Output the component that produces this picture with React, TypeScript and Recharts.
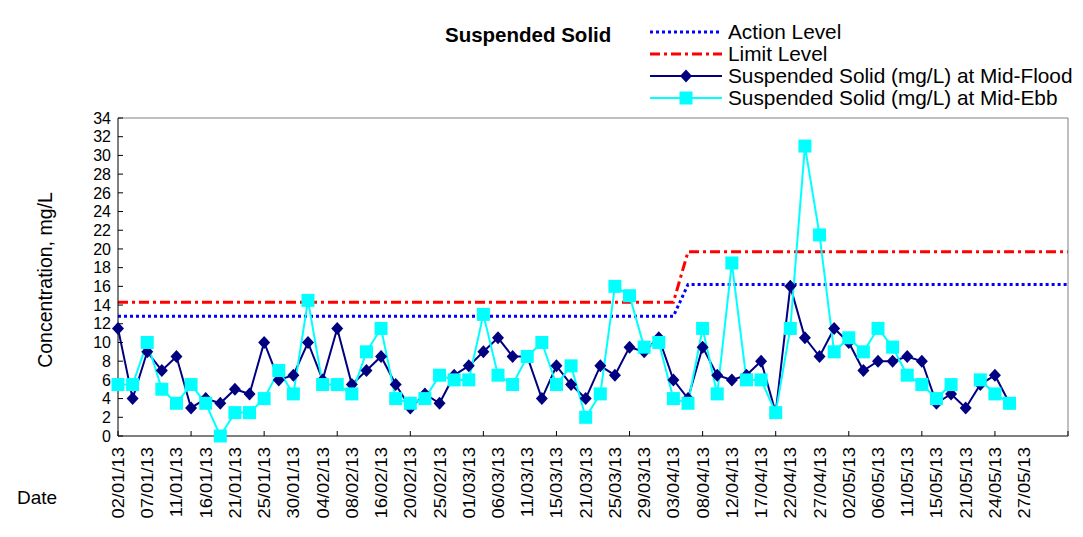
import React from 'react'
import { LineChart, Line, XAxis, YAxis } from 'recharts'

const FONT = '"Liberation Sans", Arial, sans-serif'

// one label every second sampling day
const dateLabels = [
  '02/01/13', '07/01/13', '11/01/13', '16/01/13', '21/01/13', '25/01/13', '30/01/13', '04/02/13',
  '08/02/13', '16/02/13', '20/02/13', '25/02/13', '01/03/13', '06/03/13', '11/03/13', '15/03/13',
  '21/03/13', '25/03/13', '29/03/13', '03/04/13', '08/04/13', '12/04/13', '17/04/13', '22/04/13',
  '27/04/13', '02/05/13', '06/05/13', '11/05/13', '15/05/13', '21/05/13', '24/05/13', '27/05/13',
]

const midFlood = [
  11.5, 4, 9, 7, 8.5, 3, 4, 3.5, 5, 4.5, 10, 6, 6.5, 10, 6, 11.5, 5.5, 7, 8.5, 5.5,
  3, 4.5, 3.5, 6.5, 7.5, 9, 10.5, 8.5, 8.5, 4, 7.5, 5.5, 4, 7.5, 6.5, 9.5, 9, 10.5, 6, 4,
  9.5, 6.5, 6, 6.5, 8, 2.5, 16, 10.5, 8.5, 11.5, 10, 7, 8, 8, 8.5, 8, 3.5, 4.5, 3, 5.5,
  6.5, 3.5,
]

const midEbb: (number | null)[] = [
  5.5, 5.5, 10, 5, 3.5, 5.5, 3.5, 0, 2.5, 2.5, 4, 7, 4.5, 14.5, 5.5, 5.5, 4.5, 9, 11.5, 4,
  3.5, 4, 6.5, 6, 6, 13, 6.5, 5.5, 8.5, 10, 5.5, 7.5, 2, 4.5, 16, 15, 9.5, 10, 4, 3.5,
  11.5, 4.5, 18.5, 6, 6, 2.5, 11.5, 31, 21.5, 9, 10.5, 9, 11.5, 9.5, 6.5, 5.5, 4, 5.5, null, 6,
  4.5, 3.5,
]

const yTicks = [0, 2, 4, 6, 8, 10, 12, 14, 16, 18, 20, 22, 24, 26, 28, 30, 32, 34]

const categoryCount = 66
const levelChangeIndex = 39
const actionLevel = [12.8, 16.2]
const limitLevel = [14.3, 19.7]

const rows = Array.from({ length: categoryCount }, (_, i) => ({
  i,
  flood: midFlood[i] ?? null,
  ebb: midEbb[i] ?? null,
  action: i < levelChangeIndex ? actionLevel[0] : actionLevel[1],
  limit: i < levelChangeIndex ? limitLevel[0] : limitLevel[1],
}))

const xTicks = rows.map((r) => r.i)

function DateTick(props: any) {
  const { x, y, payload } = props
  const i = payload.value as number
  const label = i % 2 === 0 ? dateLabels[i / 2] : undefined
  return (
    <g>
      {i % 5 === 0 && <line x1={x} x2={x} y1={y} y2={y - 5} stroke="#000" />}
      {label && (
        <text
          transform={`translate(${x + 6},${y + 11}) rotate(-90) scale(1.15,1)`}
          textAnchor="end"
          fontSize={16}
          fontFamily={FONT}
          fill="#000"
        >
          {label}
        </text>
      )}
    </g>
  )
}

function Diamond(p: any) {
  const { cx, cy, index } = p
  if (cx == null || cy == null || p.value == null) return <g key={`d${index}`} />
  return (
    <polygon
      key={`d${index}`}
      points={`${cx},${cy - 6.5} ${cx + 6},${cy} ${cx},${cy + 6.5} ${cx - 6},${cy}`}
      fill="#000080"
    />
  )
}

function Square(p: any) {
  const { cx, cy, index } = p
  if (cx == null || cy == null || p.value == null) return <g key={`s${index}`} />
  return <rect key={`s${index}`} x={cx - 6.5} y={cy - 6.5} width={13} height={13} fill="#00FFFF" />
}

const legendItems = [
  { label: 'Action Level', color: '#0000FF', dash: '3 3', marker: null },
  { label: 'Limit Level', color: '#FF0000', dash: '10 4 3 4', marker: null },
  { label: 'Suspended Solid (mg/L) at Mid-Flood', color: '#000080', dash: undefined, marker: 'diamond' },
  { label: 'Suspended Solid (mg/L) at Mid-Ebb', color: '#00FFFF', dash: undefined, marker: 'square' },
]

function LegendBox() {
  return (
    <div style={{ position: 'absolute', left: 650, top: 21, fontFamily: FONT, fontSize: 20.8, color: '#000' }}>
      {legendItems.map((it) => (
        <div key={it.label} style={{ display: 'flex', alignItems: 'center', height: 22 }}>
          <svg width={74} height={16} style={{ flex: 'none' }}>
            <line
              x1={0}
              x2={72}
              y1={8}
              y2={8}
              stroke={it.color}
              strokeWidth={it.marker ? 2 : 3}
              strokeDasharray={it.dash}
            />
            {it.marker === 'diamond' && <polygon points="36,1.5 42,8 36,14.5 30,8" fill={it.color} />}
            {it.marker === 'square' && <rect x={29.5} y={1.5} width={13} height={13} fill={it.color} />}
          </svg>
          <span style={{ marginLeft: 4, whiteSpace: 'nowrap', lineHeight: '22px' }}>{it.label}</span>
        </div>
      ))}
    </div>
  )
}

export default function App() {
  return (
    <div style={{ position: 'absolute', left: 0, top: 0, width: 1083, height: 537, background: '#fff' }}>
      <LineChart width={1083} height={537} data={rows} margin={{ top: 117, right: 14, left: 0, bottom: 0 }}>
        <XAxis
          dataKey="i"
          type="number"
          domain={[0, categoryCount - 1]}
          ticks={xTicks}
          interval={0}
          height={101}
          tickSize={0}
          tickMargin={0}
          tickLine={false}
          tick={<DateTick />}
          axisLine={{ stroke: '#000' }}
        />
        <XAxis
          xAxisId="top"
          orientation="top"
          dataKey="i"
          type="number"
          domain={[0, categoryCount - 1]}
          height={1}
          tick={false}
          tickLine={false}
          axisLine={{ stroke: '#808080' }}
        />
        <YAxis
          domain={[0, 34]}
          ticks={yTicks}
          interval={0}
          width={118}
          tickSize={-5}
          tickMargin={12}
          tickLine={{ stroke: '#000' }}
          axisLine={{ stroke: '#000' }}
          tick={{ fill: '#000', fontSize: 16, fontFamily: FONT }}
        />
        <YAxis
          yAxisId="right"
          orientation="right"
          domain={[0, 34]}
          width={1}
          tick={false}
          tickLine={false}
          axisLine={{ stroke: '#808080' }}
        />
        <Line dataKey="action" stroke="#0000FF" strokeWidth={3} strokeDasharray="3 3" dot={false} isAnimationActive={false} />
        <Line dataKey="limit" stroke="#FF0000" strokeWidth={3} strokeDasharray="10 4 3 4" dot={false} isAnimationActive={false} />
        <Line dataKey="flood" stroke="#000080" strokeWidth={2} dot={Diamond} activeDot={false} isAnimationActive={false} />
        <Line dataKey="ebb" stroke="#00FFFF" strokeWidth={2} dot={Square} activeDot={false} isAnimationActive={false} />
      </LineChart>
      <div style={{ position: 'absolute', left: 445, top: 23, fontFamily: FONT, fontWeight: 'bold', fontSize: 20.5 }}>
        Suspended Solid
      </div>
      <LegendBox />
      <div
        style={{
          position: 'absolute',
          left: 45,
          top: 280,
          transform: 'translate(-50%, -50%) rotate(-90deg)',
          fontFamily: FONT,
          fontSize: 19.5,
          whiteSpace: 'nowrap',
        }}
      >
        Concentration, mg/L
      </div>
      <div style={{ position: 'absolute', left: 17, top: 487, fontFamily: FONT, fontSize: 19 }}>Date</div>
    </div>
  )
}
